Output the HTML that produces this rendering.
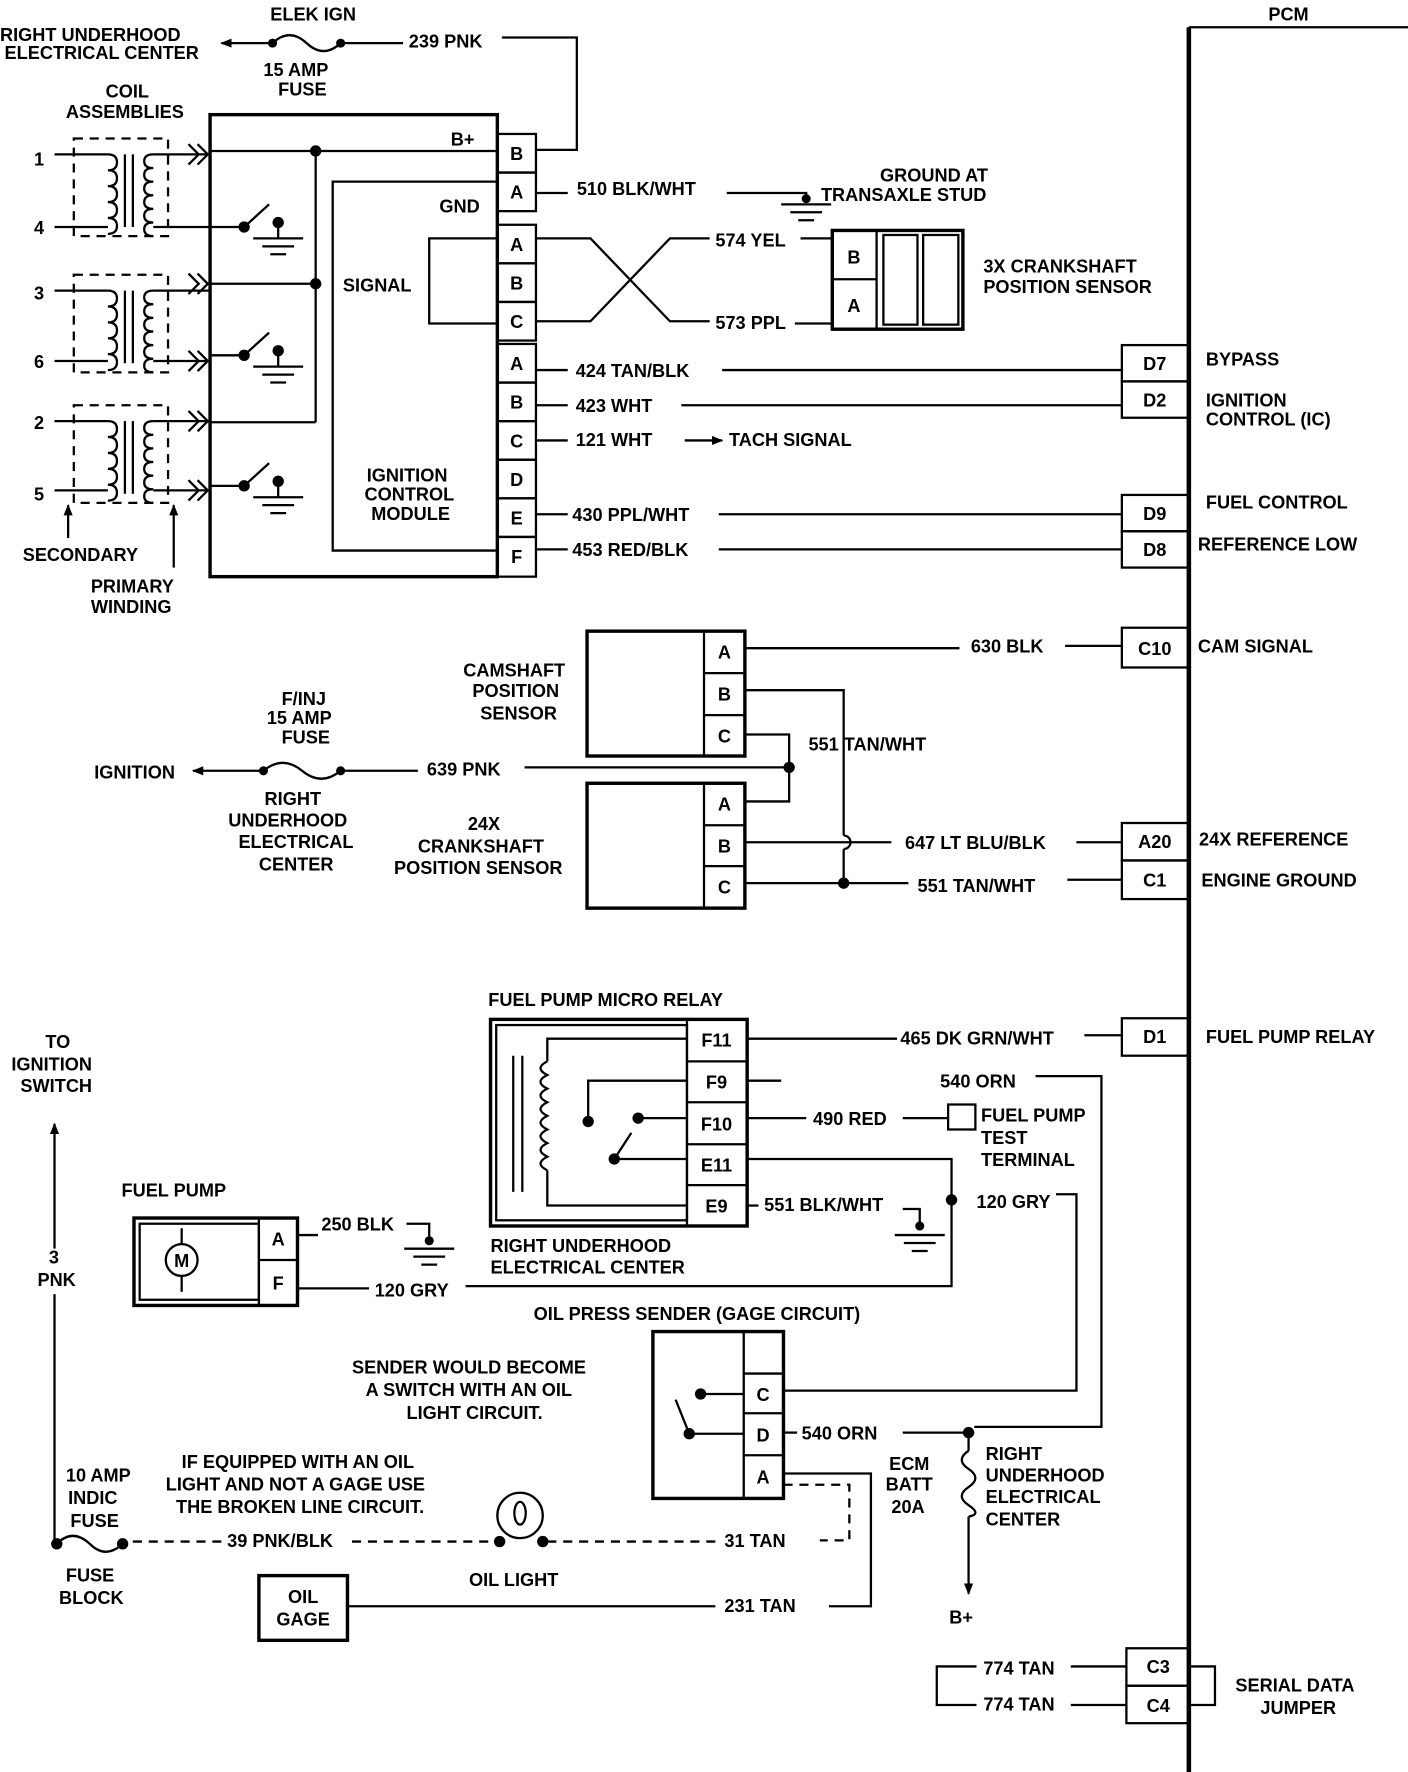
<!DOCTYPE html>
<html><head><meta charset="utf-8"><style>
html,body{margin:0;padding:0;background:#fff;}
svg{display:block;}
text{font-family:"Liberation Sans",sans-serif;font-weight:bold;font-size:16px;fill:#000;}
</style></head><body>
<svg width="1408" height="1772" viewBox="0 0 1240 1561" preserveAspectRatio="none" xmlns="http://www.w3.org/2000/svg">
<defs>
<marker id="ar" markerWidth="10" markerHeight="8" refX="9" refY="4" orient="auto" markerUnits="userSpaceOnUse"><path d="M0,0 L10,4 L0,8 Z" fill="#000"/></marker>
<g id="gnd"><line x1="-22" y1="0" x2="22" y2="0"/><line x1="-14" y1="7" x2="14" y2="7"/><line x1="-7" y1="14" x2="7" y2="14"/></g>
<g id="coil">
<rect x="0" y="0" width="83" height="86" fill="none" stroke-dasharray="8,6"/>
<path d="M30,14 q8,0 8,7 q0,7 -8,7 q8,0 8,7 q0,7 -8,7 q8,0 8,7 q0,7 -8,7 q8,0 8,7 q0,7 -8,7 q8,0 8,7 q0,7 -8,7" fill="none"/>
<line x1="45" y1="14" x2="45" y2="78"/><line x1="52" y1="14" x2="52" y2="78"/>
<path d="M70,14 q-8,0 -8,6 q0,6 8,6 q-8,0 -8,6 q0,6 8,6 q-8,0 -8,6 q0,6 8,6 q-8,0 -8,6 q0,6 8,6 q-8,0 -8,6 q0,6 8,6 q-8,0 -8,6 q0,6 8,6" fill="none"/>
</g>
<g id="chev"><path d="M-18,-9 L-9,0 L-18,9 M-10,-9 L-1,0 L-10,9" fill="none"/></g>
<g id="sw"><circle cx="0" cy="0" r="4" fill="#000"/><line x1="0" y1="0" x2="22" y2="-20"/><circle cx="30" cy="-4" r="4" fill="#000"/><line x1="30" y1="-4" x2="30" y2="10"/><use href="#gnd" x="30" y="10"/></g>
</defs>
<g stroke="#000" stroke-width="2" fill="none">
<!-- PCM -->
<line x1="1047" y1="24" x2="1240" y2="24"/>
<line x1="1047" y1="24" x2="1047" y2="1561" stroke-width="4"/>
<!-- top fuse -->
<line x1="240" y1="38" x2="195" y2="38" marker-end="url(#ar)"/>
<path d="M240,38 q15,-14 30,0 q15,14 30,0"/>
<circle cx="240" cy="38" r="3" fill="#000"/><circle cx="300" cy="38" r="3" fill="#000"/>
<line x1="300" y1="38" x2="355" y2="38"/>
<polyline points="442,33 508,33 508,132 472,132"/>
<!-- ICM -->
<rect x="185" y="101" width="253" height="407" stroke-width="3"/>
<rect x="438" y="118" width="34" height="34"/><rect x="438" y="152" width="34" height="34"/>
<rect x="438" y="198" width="34" height="34"/><rect x="438" y="232" width="34" height="34"/><rect x="438" y="266" width="34" height="34"/>
<rect x="438" y="303" width="34" height="34"/><rect x="438" y="337" width="34" height="34"/><rect x="438" y="371" width="34" height="34"/><rect x="438" y="405" width="34" height="34"/><rect x="438" y="439" width="34" height="34"/><rect x="438" y="473" width="34" height="35"/>
<line x1="185" y1="133" x2="438" y2="133"/>
<circle cx="278" cy="133" r="4" fill="#000"/>
<line x1="278" y1="133" x2="278" y2="372"/>
<circle cx="278" cy="250" r="4" fill="#000"/>
<line x1="185" y1="250" x2="278" y2="250"/>
<line x1="185" y1="372" x2="278" y2="372"/>
<polyline points="438,160 293,160 293,485 438,485"/>
<polyline points="438,210 378,210 378,285 438,285"/>
<line x1="185" y1="200" x2="215" y2="200"/><use href="#sw" x="215" y="200"/>
<line x1="185" y1="313" x2="215" y2="313"/><use href="#sw" x="215" y="313"/>
<line x1="185" y1="428" x2="215" y2="428"/><use href="#sw" x="215" y="428"/>
<!-- coils -->
<use href="#coil" x="65" y="122"/><use href="#coil" x="65" y="242"/><use href="#coil" x="65" y="357"/>
<line x1="48" y1="136" x2="95" y2="136"/><line x1="135" y1="136" x2="185" y2="136"/><use href="#chev" x="184" y="136"/>
<line x1="48" y1="200" x2="95" y2="200"/><line x1="135" y1="200" x2="185" y2="200"/>
<line x1="48" y1="256" x2="95" y2="256"/><line x1="135" y1="256" x2="185" y2="256"/><use href="#chev" x="184" y="250"/>
<line x1="48" y1="318" x2="95" y2="318"/><line x1="135" y1="318" x2="185" y2="318"/><use href="#chev" x="184" y="318"/>
<line x1="48" y1="371" x2="95" y2="371"/><line x1="135" y1="371" x2="185" y2="371"/><use href="#chev" x="184" y="371"/>
<line x1="48" y1="432" x2="95" y2="432"/><line x1="135" y1="432" x2="185" y2="432"/><use href="#chev" x="184" y="432"/>
<line x1="60" y1="474" x2="60" y2="445" marker-end="url(#ar)"/>
<line x1="153" y1="500" x2="153" y2="445" marker-end="url(#ar)"/>
<!-- ground transaxle -->
<polyline points="472,170 500,170"/><polyline points="640,170 710,170 710,178"/>
<circle cx="710" cy="175" r="3" fill="#000"/><use href="#gnd" x="710" y="180"/>
<!-- signal cross -->
<polyline points="472,210 520,210 590,283 625,283"/>
<polyline points="472,283 520,283 590,210 625,210"/>
<line x1="705" y1="210" x2="733" y2="210"/><line x1="700" y1="285" x2="733" y2="285"/>
<rect x="733" y="203" width="115" height="87" stroke-width="3"/>
<line x1="733" y1="246" x2="772" y2="246"/><line x1="772" y1="203" x2="772" y2="290"/>
<rect x="778" y="207" width="30" height="79"/><rect x="813" y="207" width="31" height="79"/>
<!-- ICM lower wires -->
<line x1="472" y1="326" x2="500" y2="326"/><line x1="636" y1="326" x2="988" y2="326"/>
<line x1="472" y1="357" x2="500" y2="357"/><line x1="600" y1="357" x2="988" y2="357"/>
<line x1="472" y1="388" x2="500" y2="388"/><line x1="603" y1="388" x2="636" y2="388" marker-end="url(#ar)"/>
<line x1="472" y1="453" x2="500" y2="453"/><line x1="633" y1="453" x2="988" y2="453"/>
<line x1="472" y1="484" x2="500" y2="484"/><line x1="633" y1="484" x2="988" y2="484"/>
<rect x="988" y="304" width="59" height="32"/><rect x="988" y="336" width="59" height="32"/>
<rect x="988" y="436" width="59" height="32"/><rect x="988" y="468" width="59" height="32"/>
<!-- camshaft -->
<rect x="517" y="556" width="139" height="110" stroke-width="3"/>
<line x1="620" y1="556" x2="620" y2="666"/><line x1="620" y1="593" x2="656" y2="593"/><line x1="620" y1="630" x2="656" y2="630"/>
<line x1="656" y1="571" x2="845" y2="571"/><line x1="938" y1="569" x2="988" y2="569"/>
<rect x="988" y="553" width="59" height="35"/>
<polyline points="656,608 743,608 743,736"/>
<path d="M743,736 a6,6 0 0 1 0,12"/>
<line x1="743" y1="748" x2="743" y2="778"/>
<polyline points="656,647 695,647 695,706 656,706"/>
<circle cx="695" cy="676" r="4" fill="#000"/>
<line x1="462" y1="676" x2="695" y2="676"/>
<line x1="232" y1="679" x2="170" y2="679" marker-end="url(#ar)"/>
<path d="M232,679 q17,-14 34,0 q17,14 34,0"/>
<circle cx="232" cy="679" r="3" fill="#000"/><circle cx="300" cy="679" r="3" fill="#000"/>
<line x1="300" y1="679" x2="368" y2="679"/>
<!-- 24x -->
<rect x="517" y="690" width="139" height="110" stroke-width="3"/>
<line x1="620" y1="690" x2="620" y2="800"/><line x1="620" y1="727" x2="656" y2="727"/><line x1="620" y1="763" x2="656" y2="763"/>
<line x1="656" y1="742" x2="785" y2="742"/><line x1="948" y1="742" x2="988" y2="742"/>
<line x1="656" y1="778" x2="800" y2="778"/><line x1="940" y1="775" x2="988" y2="775"/>
<circle cx="743" cy="778" r="4" fill="#000"/>
<rect x="988" y="725" width="59" height="33"/><rect x="988" y="758" width="59" height="34"/>
<!-- relay -->
<rect x="432" y="898" width="226" height="182" stroke-width="3"/>
<rect x="437" y="903" width="168" height="172"/>
<line x1="605" y1="898" x2="605" y2="1080"/>
<line x1="605" y1="935" x2="658" y2="935"/><line x1="605" y1="971" x2="658" y2="971"/><line x1="605" y1="1008" x2="658" y2="1008"/><line x1="605" y1="1044" x2="658" y2="1044"/>
<line x1="452" y1="930" x2="452" y2="1050"/><line x1="460" y1="930" x2="460" y2="1050"/>
<polyline points="605,915 482,915 482,935"/>
<path d="M482,935 q-12,6 0,12 q-12,6 0,12 q-12,6 0,12 q-12,6 0,12 q-12,6 0,12 q-12,6 0,12 q-12,6 0,12 q-12,6 0,12"/>
<polyline points="482,1031 482,1062 605,1062"/>
<polyline points="605,952 518,952 518,988"/><circle cx="518" cy="988" r="4" fill="#000"/>
<polyline points="605,985 562,985"/><circle cx="562" cy="985" r="4" fill="#000"/>
<line x1="541" y1="1021" x2="556" y2="998"/>
<polyline points="541,1021 605,1021"/><circle cx="541" cy="1021" r="4" fill="#000"/>
<line x1="658" y1="915" x2="790" y2="915"/><line x1="955" y1="912" x2="988" y2="912"/>
<rect x="988" y="897" width="59" height="33"/>
<line x1="658" y1="952" x2="688" y2="952"/>
<polyline points="912,948 970,948 970,1257 858,1257"/>
<line x1="658" y1="985" x2="710" y2="985"/><line x1="795" y1="985" x2="835" y2="985"/>
<rect x="835" y="973" width="24" height="22"/>
<polyline points="658,1021 838,1021 838,1133 410,1133"/>
<circle cx="838" cy="1057" r="4" fill="#000"/>
<polyline points="930,1052 948,1052 948,1225 690,1225"/>
<line x1="658" y1="1062" x2="668" y2="1062"/>
<polyline points="795,1065 810,1065 810,1080"/><circle cx="810" cy="1080" r="3" fill="#000"/><use href="#gnd" x="810" y="1088"/>
<!-- fuel pump -->
<rect x="118" y="1073" width="144" height="77" stroke-width="3"/>
<rect x="123" y="1078" width="105" height="67"/>
<line x1="228" y1="1073" x2="228" y2="1150"/><line x1="228" y1="1110" x2="262" y2="1110"/>
<circle cx="160" cy="1110" r="14"/><line x1="160" y1="1082" x2="160" y2="1096"/><line x1="160" y1="1124" x2="160" y2="1138"/>
<line x1="262" y1="1088" x2="280" y2="1088"/>
<polyline points="358,1078 378,1078 378,1095"/><circle cx="378" cy="1093" r="3" fill="#000"/><use href="#gnd" x="378" y="1100"/>
<line x1="262" y1="1135" x2="325" y2="1135"/>
<!-- to ignition switch -->
<line x1="48" y1="1100" x2="48" y2="990" marker-end="url(#ar)"/>
<line x1="48" y1="1140" x2="48" y2="1360"/>
<!-- oil sender -->
<rect x="575" y="1173" width="115" height="147" stroke-width="3"/>
<line x1="655" y1="1173" x2="655" y2="1320"/><line x1="655" y1="1210" x2="690" y2="1210"/><line x1="655" y1="1245" x2="690" y2="1245"/><line x1="655" y1="1282" x2="690" y2="1282"/>
<line x1="617" y1="1228" x2="655" y2="1228"/><circle cx="617" cy="1228" r="4" fill="#000"/>
<line x1="607" y1="1263" x2="655" y2="1263"/><circle cx="607" cy="1263" r="4" fill="#000"/>
<line x1="607" y1="1263" x2="595" y2="1233"/>
<line x1="690" y1="1262" x2="702" y2="1262"/><line x1="795" y1="1262" x2="858" y2="1262"/>
<circle cx="853" cy="1262" r="4" fill="#000"/>
<line x1="853" y1="1262" x2="853" y2="1278"/>
<path d="M853,1278 q-12,8 0,16 q12,8 0,16 q-12,8 0,16 q12,8 0,10"/>
<line x1="853" y1="1336" x2="853" y2="1404" marker-end="url(#ar)"/>
<polyline points="690,1298 767,1298 767,1415 730,1415"/>
<polyline points="690,1308 748,1308 748,1357 722,1357" stroke-dasharray="8,6"/>
<line x1="630" y1="1358" x2="478" y2="1358" stroke-dasharray="8,6"/>
<circle cx="458" cy="1335" r="20"/><ellipse cx="458" cy="1333" rx="5" ry="10"/>
<circle cx="440" cy="1358" r="4" fill="#000"/><circle cx="478" cy="1358" r="4" fill="#000"/>
<line x1="310" y1="1358" x2="440" y2="1358" stroke-dasharray="8,6"/>
<line x1="195" y1="1358" x2="108" y2="1358" stroke-dasharray="8,6"/>
<path d="M50,1360 q14,-14 29,0 q14,14 29,0"/>
<circle cx="50" cy="1360" r="4" fill="#000"/><circle cx="108" cy="1360" r="4" fill="#000"/>
<rect x="228" y="1388" width="78" height="57" stroke-width="3"/>
<line x1="306" y1="1415" x2="630" y2="1415"/>
<!-- serial data -->
<rect x="992" y="1452" width="55" height="33"/><rect x="992" y="1485" width="55" height="33"/>
<polyline points="860,1468 825,1468 825,1502 860,1502"/>
<line x1="943" y1="1468" x2="992" y2="1468"/><line x1="943" y1="1502" x2="992" y2="1502"/>
<polyline points="1047,1468 1070,1468 1070,1502 1047,1502"/>
</g>
<g>
<text x="1117" y="18" font-size="20">PCM</text>
<text x="0" y="36">RIGHT UNDERHOOD</text><text x="4" y="52">ELECTRICAL CENTER</text>
<text x="238" y="18">ELEK IGN</text><text x="232" y="67">15 AMP</text><text x="245" y="84">FUSE</text>
<text x="360" y="42">239 PNK</text>
<text x="93" y="86">COIL</text><text x="58" y="104">ASSEMBLIES</text>
<text x="30" y="146">1</text><text x="30" y="206">4</text><text x="30" y="264">3</text><text x="30" y="324">6</text><text x="30" y="378">2</text><text x="30" y="441">5</text>
<text x="20" y="494">SECONDARY</text><text x="80" y="522">PRIMARY</text><text x="80" y="540">WINDING</text>
<text x="397" y="128">B+</text><text x="387" y="187">GND</text><text x="302" y="257">SIGNAL</text>
<text x="323" y="424">IGNITION</text><text x="321" y="441">CONTROL</text><text x="327" y="458">MODULE</text>
<g text-anchor="middle"><text x="455" y="141">B</text><text x="455" y="175">A</text><text x="455" y="221">A</text><text x="455" y="255">B</text><text x="455" y="289">C</text><text x="455" y="326">A</text><text x="455" y="360">B</text><text x="455" y="394">C</text><text x="455" y="428">D</text><text x="455" y="462">E</text><text x="455" y="496">F</text>
<text x="752" y="232">B</text><text x="752" y="275">A</text>
<text x="1017" y="326">D7</text><text x="1017" y="358">D2</text><text x="1017" y="458">D9</text><text x="1017" y="490">D8</text>
<text x="638" y="580">A</text><text x="638" y="617">B</text><text x="638" y="654">C</text>
<text x="638" y="714">A</text><text x="638" y="751">B</text><text x="638" y="787">C</text>
<text x="1017" y="577">C10</text><text x="1017" y="747">A20</text><text x="1017" y="781">C1</text>
<text x="631" y="922">F11</text><text x="631" y="959">F9</text><text x="631" y="996">F10</text><text x="631" y="1032">E11</text><text x="631" y="1068">E9</text>
<text x="1017" y="919">D1</text>
<text x="245" y="1097">A</text><text x="245" y="1136">F</text><text x="160" y="1116" font-size="12">M</text>
<text x="672" y="1234">C</text><text x="672" y="1270">D</text><text x="672" y="1307">A</text>
<text x="267" y="1412">OIL</text><text x="267" y="1432">GAGE</text>
<text x="1020" y="1474">C3</text><text x="1020" y="1508">C4</text>
</g>
<text x="508" y="172">510 BLK/WHT</text>
<text x="775" y="160">GROUND AT</text><text x="723" y="177">TRANSAXLE STUD</text>
<text x="630" y="217">574 YEL</text><text x="630" y="290">573 PPL</text>
<text x="866" y="240">3X CRANKSHAFT</text><text x="866" y="258">POSITION SENSOR</text>
<text x="507" y="332">424 TAN/BLK</text><text x="507" y="363">423 WHT</text><text x="507" y="393">121 WHT</text><text x="642" y="393">TACH SIGNAL</text>
<text x="504" y="459">430 PPL/WHT</text><text x="504" y="490">453 RED/BLK</text>
<text x="1062" y="322">BYPASS</text><text x="1062" y="358">IGNITION</text><text x="1062" y="375">CONTROL (IC)</text>
<text x="1062" y="448">FUEL CONTROL</text><text x="1055" y="485">REFERENCE LOW</text>
<text x="408" y="596">CAMSHAFT</text><text x="416" y="614">POSITION</text><text x="423" y="634">SENSOR</text>
<text x="855" y="575">630 BLK</text><text x="1055" y="575">CAM SIGNAL</text>
<text x="712" y="661">551 TAN/WHT</text>
<text x="248" y="621">F/INJ</text><text x="235" y="638">15 AMP</text><text x="248" y="655">FUSE</text>
<text x="83" y="686">IGNITION</text><text x="376" y="683">639 PNK</text>
<text x="233" y="709">RIGHT</text><text x="201" y="728">UNDERHOOD</text><text x="210" y="747">ELECTRICAL</text><text x="228" y="767">CENTER</text>
<text x="412" y="731">24X</text><text x="368" y="751">CRANKSHAFT</text><text x="347" y="770">POSITION SENSOR</text>
<text x="797" y="748">647 LT BLU/BLK</text><text x="808" y="786">551 TAN/WHT</text>
<text x="1056" y="745">24X REFERENCE</text><text x="1058" y="781">ENGINE GROUND</text>
<text x="430" y="886">FUEL PUMP MICRO RELAY</text>
<text x="793" y="920">465 DK GRN/WHT</text><text x="1062" y="919">FUEL PUMP RELAY</text>
<text x="828" y="958">540 ORN</text><text x="716" y="991">490 RED</text>
<text x="864" y="988">FUEL PUMP</text><text x="864" y="1008">TEST</text><text x="864" y="1027">TERMINAL</text>
<text x="673" y="1067">551 BLK/WHT</text><text x="860" y="1064">120 GRY</text>
<text x="432" y="1103">RIGHT UNDERHOOD</text><text x="432" y="1122">ELECTRICAL CENTER</text>
<text x="107" y="1054">FUEL PUMP</text><text x="283" y="1084">250 BLK</text><text x="330" y="1142">120 GRY</text>
<text x="40" y="923">TO</text><text x="10" y="943">IGNITION</text><text x="18" y="962">SWITCH</text>
<text x="43" y="1113">3</text><text x="33" y="1133">PNK</text>
<text x="470" y="1163">OIL PRESS SENDER (GAGE CIRCUIT)</text>
<text x="310" y="1210">SENDER WOULD BECOME</text><text x="322" y="1230">A SWITCH WITH AN OIL</text><text x="358" y="1250">LIGHT CIRCUIT.</text>
<text x="706" y="1268">540 ORN</text>
<text x="783" y="1295">ECM</text><text x="780" y="1313">BATT</text><text x="785" y="1333">20A</text>
<text x="868" y="1286">RIGHT</text><text x="868" y="1305">UNDERHOOD</text><text x="868" y="1324">ELECTRICAL</text><text x="868" y="1344">CENTER</text>
<text x="836" y="1430">B+</text>
<text x="160" y="1293">IF EQUIPPED WITH AN OIL</text><text x="146" y="1313">LIGHT AND NOT A GAGE USE</text><text x="155" y="1333">THE BROKEN LINE CIRCUIT.</text>
<text x="58" y="1305">10 AMP</text><text x="60" y="1325">INDIC</text><text x="62" y="1345">FUSE</text>
<text x="58" y="1393">FUSE</text><text x="52" y="1413">BLOCK</text>
<text x="200" y="1363">39 PNK/BLK</text><text x="638" y="1363">31 TAN</text>
<text x="413" y="1397">OIL LIGHT</text><text x="638" y="1420">231 TAN</text>
<text x="866" y="1475">774 TAN</text><text x="866" y="1507">774 TAN</text>
<text x="1088" y="1490">SERIAL DATA</text><text x="1110" y="1510">JUMPER</text>
</g>
</svg>
</body></html>
